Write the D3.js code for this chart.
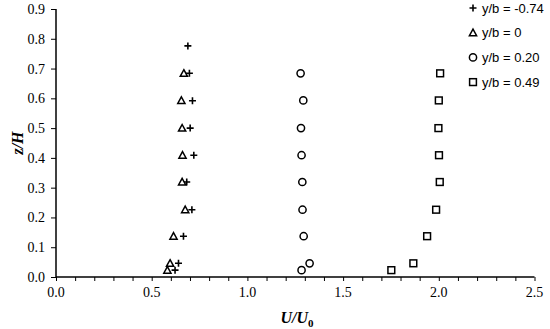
<!DOCTYPE html>
<html>
<head>
<meta charset="utf-8">
<script src="https://cdn.jsdelivr.net/npm/d3@7"></script>
<style>
  body { margin: 0; background: #fff; }
  svg { display: block; }
</style>
</head>
<body>
<div id="chart"></div>
<script>
// Width and height
let w = 550;
let h = 329;

// Heights z/H shared by the profiles
let zPlus = [0.776, 0.684, 0.592, 0.500, 0.409, 0.319, 0.226, 0.137, 0.046, 0.023];
let zRest = [0.684, 0.593, 0.500, 0.409, 0.319, 0.226, 0.137, 0.046, 0.023];

// U/U0 for each y/b station
let uMinus074 = [0.689, 0.697, 0.713, 0.701, 0.720, 0.683, 0.710, 0.666, 0.640, 0.622];
let uZero = [0.668, 0.655, 0.659, 0.661, 0.659, 0.675, 0.614, 0.596, 0.582];
let u020 = [1.278, 1.292, 1.280, 1.283, 1.287, 1.288, 1.294, 1.325, 1.283];
let u049 = [2.007, 2.000, 1.998, 2.001, 2.005, 1.986, 1.939, 1.867, 1.752];

let seriesNames = ["y/b = -0.74", "y/b = 0", "y/b = 0.20", "y/b = 0.49"];
let seriesShapes = ["plus", "triangle", "circle", "square"];

let xTicks = [0, 0.5, 1.0, 1.5, 2.0, 2.5];
let yTicks = [0, 0.1, 0.2, 0.3, 0.4, 0.5, 0.6, 0.7, 0.8, 0.9];

let series = [
  { name: seriesNames[0], shape: seriesShapes[0], pts: uMinus074.map((u, i) => [u, zPlus[i]]) },
  { name: seriesNames[1], shape: seriesShapes[1], pts: uZero.map((u, i) => [u, zRest[i]]) },
  { name: seriesNames[2], shape: seriesShapes[2], pts: u020.map((u, i) => [u, zRest[i]]) },
  { name: seriesNames[3], shape: seriesShapes[3], pts: u049.map((u, i) => [u, zRest[i]]) }
];

let x = d3.scaleLinear().domain([0, 2.5]).range([56, 534.5]);
let y = d3.scaleLinear().domain([0, 0.9]).range([277, 9]);

let svg = d3.select("#chart")
  .append("svg")
  .attr("width", w)
  .attr("height", h);

// draws one marker shape centred at 0,0
function marker(g, shape) {
  if (shape == "plus") {
    g.append("path").attr("d", "M-3.5,0H3.5M0,-3.5V3.5")
      .attr("stroke", "#000").attr("stroke-width", 1.6).attr("fill", "none");
  } else if (shape == "triangle") {
    g.append("path").attr("d", "M0,-3.6L3.6,3L-3.6,3Z")
      .attr("stroke", "#000").attr("stroke-width", 1.5).attr("fill", "#fff");
  } else if (shape == "circle") {
    g.append("circle").attr("r", 3.6)
      .attr("stroke", "#000").attr("stroke-width", 1.5).attr("fill", "#fff");
  } else {
    g.append("rect").attr("x", -3.4).attr("y", -3.4).attr("width", 6.8).attr("height", 6.8)
      .attr("stroke", "#000").attr("stroke-width", 1.5).attr("fill", "#fff");
  }
}

// x axis with minor ticks
let xAxis = svg.append("g")
  .attr("transform", "translate(0," + y(0) + ")")
  .call(d3.axisBottom(x).ticks(25).tickSize(4).tickFormat(""));
xAxis.selectAll("line").attr("stroke-width", 1);
xAxis.select(".domain").attr("d", "M" + x(0) + ",0H" + x(2.5)).attr("stroke-width", 1.5);

svg.append("g")
  .selectAll("text")
  .data(xTicks)
  .join("text")
  .attr("x", d => x(d))
  .attr("y", y(0) + 20)
  .attr("text-anchor", "middle")
  .style("font-family", "Liberation Serif, Times New Roman, serif")
  .style("font-size", "14px")
  .text(d => d.toFixed(1));

// y axis
let yAxis = svg.append("g")
  .attr("transform", "translate(" + x(0) + ",0)")
  .call(d3.axisLeft(y).tickValues(yTicks).tickSize(5).tickPadding(6).tickFormat(d3.format(".1f")));
yAxis.selectAll("line").attr("stroke-width", 1);
yAxis.select(".domain").attr("d", "M0," + y(0.9) + "V" + y(0)).attr("stroke-width", 1.5);
yAxis.selectAll("text")
  .style("font-family", "Liberation Serif, Times New Roman, serif")
  .style("font-size", "14px")
  .attr("fill", "#000");

// axis titles
svg.append("text")
  .attr("transform", "translate(23,143) rotate(-90)")
  .attr("text-anchor", "middle")
  .style("font-family", "Liberation Serif, Times New Roman, serif")
  .style("font-size", "16px")
  .style("font-weight", "bold")
  .style("font-style", "italic")
  .text("z/H");

let xt = svg.append("text")
  .attr("x", 297)
  .attr("y", 323)
  .attr("text-anchor", "middle")
  .style("font-family", "Liberation Serif, Times New Roman, serif")
  .style("font-size", "16px")
  .style("font-weight", "bold")
  .style("font-style", "italic")
  .text("U/U");
xt.append("tspan")
  .attr("dy", 4)
  .style("font-size", "11px")
  .style("font-style", "normal")
  .text("0");

// points
for (let s of series) {
  let g = svg.append("g");
  g.selectAll("g")
    .data(s.pts)
    .join("g")
    .attr("transform", d => "translate(" + x(d[0]) + "," + y(d[1]) + ")")
    .each(function() { marker(d3.select(this), s.shape); });
}

// legend
let legend = svg.append("g");
series.forEach((s, i) => {
  let row = legend.append("g").attr("transform", "translate(473," + (8 + i * 24.7) + ")");
  marker(row, s.shape);
  row.append("text")
    .attr("x", 9)
    .attr("y", 4.5)
    .style("font-family", "Liberation Sans, Arial, sans-serif")
    .style("font-size", "13px")
    .text(s.name);
});
</script>
</body>
</html>
